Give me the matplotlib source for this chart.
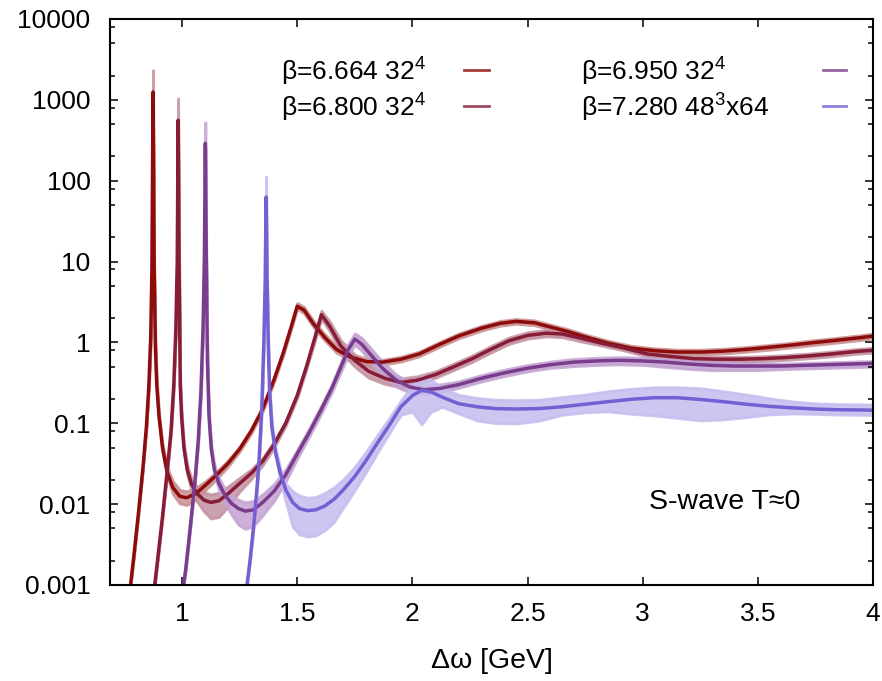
"""
S-wave spectral functions at T~0 for four lattice spacings, log scale,
with error bands (gnuplot-style figure redrawn in matplotlib).
"""

import matplotlib
matplotlib.use("Agg")
import matplotlib.pyplot as plt
import numpy as np
from matplotlib.ticker import FixedLocator, FixedFormatter, LogLocator, NullFormatter

plt.rcParams["font.family"] = ["Liberation Sans", "DejaVu Sans"]
plt.rcParams["mathtext.fontset"] = "custom"
plt.rcParams["mathtext.rm"] = "Liberation Sans"
plt.rcParams["mathtext.it"] = "Liberation Sans"

FONT_SIZE = 19

# --- data ----------------------------------------------------------------
LABELS = [r"β=6.664 32$^4$", r"β=6.800 32$^4$", r"β=6.950 32$^4$", r"β=7.280 48$^3$x64"]
LINE_COLORS = ["#8e0b0b", "#871c36", "#7a3c8c", "#7460d2"]
BAND_COLORS = ["#c98f90", "#c392a0", "#c3a3d2", "#c6bcef"]

X_TICKS = [1, 1.5, 2, 2.5, 3, 3.5, 4]
X_TICK_LABELS = ["1", "1.5", "2", "2.5", "3", "3.5", "4"]
Y_TICKS = [0.001, 0.01, 0.1, 1, 10, 100, 1000, 10000]
Y_TICK_LABELS = ["0.001", "0.01", "0.1", "1", "10", "100", "1000", "10000"]

# beta = 6.664
x1 = [0.770, 0.790, 0.810, 0.830, 0.845, 0.856, 0.864, 0.869, 0.874, 0.879,
      0.884, 0.890, 0.900, 0.915, 0.935, 0.960, 0.990, 1.020, 1.060, 1.100,
      1.150, 1.200, 1.250, 1.300, 1.350, 1.400, 1.440, 1.475, 1.500, 1.530,
      1.570, 1.620, 1.670, 1.730, 1.800, 1.870, 1.950, 2.030, 2.120, 2.200,
      2.300, 2.380, 2.450, 2.530, 2.600, 2.680, 2.760, 2.850, 2.950, 3.050,
      3.150, 3.250, 3.350, 3.450, 3.550, 3.650, 3.750, 3.850, 3.950, 4.000]
y1 = [0.0007, 0.0022, 0.0075, 0.028, 0.09, 0.3, 1.2, 8, 1250, 8,
      0.9, 0.3, 0.12, 0.05, 0.025, 0.016, 0.0125, 0.012, 0.0135, 0.017,
      0.023, 0.032, 0.048, 0.08, 0.15, 0.35, 0.75, 1.6, 2.8, 2.5,
      1.7, 1.15, 0.82, 0.66, 0.58, 0.57, 0.62, 0.72, 0.95, 1.2,
      1.5, 1.72, 1.82, 1.75, 1.55, 1.35, 1.15, 0.98, 0.85, 0.79,
      0.76, 0.76, 0.78, 0.82, 0.87, 0.93, 1.0, 1.07, 1.15, 1.2]
lo1 = [0.02, 0.02, 0.02, 0.02, 0.03, 0.05, 0.08, 0.1, 0.05, 0.1,
       0.1, 0.08, 0.05, 0.05, 0.06, 0.08, 0.09, 0.09, 0.08, 0.06,
       0.05, 0.04, 0.03, 0.03, 0.03, 0.03, 0.03, 0.03, 0.03, 0.04,
       0.04, 0.04, 0.04, 0.04, 0.04, 0.03, 0.03, 0.03, 0.03, 0.03,
       0.03, 0.03, 0.03, 0.03, 0.03, 0.03, 0.03, 0.03, 0.03, 0.03,
       0.03, 0.03, 0.03, 0.03, 0.03, 0.03, 0.03, 0.03, 0.03, 0.03]
hi1 = [0.02, 0.02, 0.02, 0.02, 0.03, 0.05, 0.08, 0.1, 0.27, 0.1,
       0.1, 0.08, 0.05, 0.05, 0.06, 0.08, 0.08, 0.08, 0.07, 0.05,
       0.04, 0.04, 0.03, 0.03, 0.03, 0.03, 0.03, 0.03, 0.04, 0.04,
       0.04, 0.04, 0.04, 0.04, 0.04, 0.03, 0.03, 0.03, 0.03, 0.03,
       0.03, 0.03, 0.03, 0.03, 0.03, 0.03, 0.03, 0.03, 0.03, 0.03,
       0.03, 0.03, 0.03, 0.03, 0.03, 0.03, 0.03, 0.03, 0.03, 0.03]

# beta = 6.800
x2 = [0.875, 0.895, 0.915, 0.935, 0.952, 0.964, 0.973, 0.979, 0.983, 0.987,
      0.992, 0.998, 1.008, 1.022, 1.040, 1.065, 1.095, 1.125, 1.160, 1.200,
      1.250, 1.300, 1.350, 1.400, 1.450, 1.500, 1.540, 1.575, 1.605, 1.640,
      1.690, 1.750, 1.810, 1.880, 1.950, 2.020, 2.100, 2.180, 2.260, 2.340,
      2.420, 2.500, 2.580, 2.650, 2.730, 2.820, 2.920, 3.020, 3.120, 3.220,
      3.320, 3.420, 3.520, 3.620, 3.720, 3.820, 3.920, 4.000]
y2 = [0.0007, 0.0022, 0.007, 0.025, 0.08, 0.3, 1.5, 10, 560, 10,
      0.3, 0.12, 0.05, 0.027, 0.018, 0.0135, 0.0112, 0.0105, 0.011, 0.0135,
      0.018, 0.024, 0.034, 0.055, 0.10, 0.22, 0.5, 1.1, 2.2, 1.6,
      0.9, 0.6, 0.44, 0.36, 0.32, 0.34, 0.40, 0.5, 0.63, 0.82,
      1.05, 1.22, 1.3, 1.27, 1.13, 0.98, 0.85, 0.72, 0.67, 0.63,
      0.62, 0.62, 0.63, 0.65, 0.68, 0.72, 0.77, 0.80]
lo2 = [0.02, 0.02, 0.02, 0.02, 0.03, 0.05, 0.08, 0.1, 0.05, 0.1,
       0.1, 0.06, 0.05, 0.06, 0.08, 0.1, 0.14, 0.2, 0.2, 0.16,
       0.1, 0.07, 0.05, 0.04, 0.03, 0.03, 0.03, 0.04, 0.05, 0.06,
       0.07, 0.08, 0.08, 0.07, 0.06, 0.05, 0.04, 0.04, 0.04, 0.04,
       0.04, 0.04, 0.04, 0.04, 0.04, 0.03, 0.03, 0.03, 0.03, 0.03,
       0.03, 0.03, 0.03, 0.03, 0.03, 0.03, 0.03, 0.03]
hi2 = [0.02, 0.02, 0.02, 0.02, 0.03, 0.05, 0.08, 0.1, 0.27, 0.1,
       0.1, 0.06, 0.05, 0.06, 0.07, 0.08, 0.1, 0.1, 0.1, 0.09,
       0.07, 0.05, 0.04, 0.04, 0.03, 0.03, 0.03, 0.04, 0.05, 0.06,
       0.07, 0.07, 0.07, 0.06, 0.05, 0.05, 0.04, 0.04, 0.04, 0.04,
       0.04, 0.04, 0.04, 0.04, 0.04, 0.03, 0.03, 0.03, 0.03, 0.03,
       0.03, 0.03, 0.03, 0.03, 0.03, 0.03, 0.03, 0.03]

# beta = 6.950
x3 = [0.995, 1.015, 1.035, 1.055, 1.070, 1.082, 1.091, 1.097, 1.101, 1.105,
      1.110, 1.117, 1.127, 1.140, 1.160, 1.185, 1.215, 1.245, 1.275, 1.310,
      1.350, 1.400, 1.450, 1.500, 1.550, 1.600, 1.650, 1.690, 1.720, 1.750,
      1.780, 1.820, 1.870, 1.930, 1.990, 2.050, 2.120, 2.200, 2.300, 2.400,
      2.500, 2.600, 2.700, 2.800, 2.900, 3.000, 3.100, 3.200, 3.300, 3.400,
      3.500, 3.600, 3.700, 3.800, 3.900, 4.000]
y3 = [0.0006, 0.0015, 0.005, 0.018, 0.06, 0.25, 1.5, 12, 290, 12,
      0.6, 0.12, 0.048, 0.027, 0.018, 0.013, 0.0102, 0.0088, 0.0082, 0.0085,
      0.0105, 0.0145, 0.023, 0.042, 0.075, 0.14, 0.27, 0.5, 0.8, 1.1,
      0.95, 0.7, 0.48, 0.34, 0.28, 0.26, 0.27, 0.3, 0.36, 0.42,
      0.48, 0.53, 0.57, 0.59, 0.6, 0.59, 0.57, 0.54, 0.52, 0.51,
      0.51, 0.51, 0.52, 0.53, 0.54, 0.55]
lo3 = [0.02, 0.02, 0.02, 0.02, 0.03, 0.05, 0.08, 0.1, 0.05, 0.1,
       0.1, 0.06, 0.05, 0.06, 0.08, 0.1, 0.14, 0.2, 0.22, 0.2,
       0.16, 0.12, 0.08, 0.06, 0.05, 0.05, 0.05, 0.06, 0.07, 0.07,
       0.08, 0.09, 0.09, 0.08, 0.07, 0.05, 0.05, 0.04, 0.04, 0.04,
       0.04, 0.04, 0.05, 0.05, 0.05, 0.05, 0.06, 0.06, 0.06, 0.05,
       0.05, 0.04, 0.04, 0.04, 0.04, 0.04]
hi3 = [0.02, 0.02, 0.02, 0.02, 0.03, 0.05, 0.08, 0.1, 0.26, 0.1,
       0.1, 0.06, 0.05, 0.06, 0.07, 0.08, 0.1, 0.11, 0.11, 0.11,
       0.1, 0.09, 0.07, 0.05, 0.05, 0.05, 0.05, 0.06, 0.07, 0.07,
       0.08, 0.08, 0.08, 0.07, 0.06, 0.05, 0.05, 0.04, 0.04, 0.04,
       0.04, 0.04, 0.04, 0.04, 0.04, 0.04, 0.04, 0.04, 0.04, 0.04,
       0.04, 0.03, 0.03, 0.03, 0.03, 0.03]

# beta = 7.280
x4 = [1.275, 1.295, 1.315, 1.333, 1.346, 1.355, 1.361, 1.365, 1.369, 1.374,
      1.380, 1.390, 1.405, 1.425, 1.450, 1.480, 1.510, 1.545, 1.580, 1.620,
      1.660, 1.700, 1.750, 1.800, 1.850, 1.900, 1.950, 2.000, 2.040, 2.080,
      2.130, 2.200, 2.280, 2.360, 2.450, 2.550, 2.650, 2.750, 2.850, 2.950,
      3.050, 3.150, 3.250, 3.350, 3.450, 3.550, 3.650, 3.750, 3.850, 3.950,
      4.000]
y4 = [0.0007, 0.002, 0.007, 0.03, 0.15, 1.0, 6, 63, 6, 1.0,
      0.25, 0.09, 0.045, 0.025, 0.015, 0.0105, 0.0088, 0.0083, 0.0085, 0.0095,
      0.0115, 0.015, 0.022, 0.035, 0.058, 0.095, 0.16, 0.22, 0.255, 0.245,
      0.21, 0.175, 0.16, 0.152, 0.15, 0.152, 0.16, 0.172, 0.185, 0.198,
      0.207, 0.207, 0.197, 0.185, 0.172, 0.162, 0.155, 0.15, 0.147, 0.146,
      0.145]
lo4 = [0.02, 0.02, 0.02, 0.02, 0.03, 0.04, 0.05, 0.05, 0.05, 0.05,
       0.05, 0.05, 0.05, 0.08, 0.15, 0.3, 0.32, 0.32, 0.32, 0.3,
       0.28, 0.22, 0.17, 0.14, 0.12, 0.1, 0.1, 0.2, 0.42, 0.25,
       0.12, 0.12, 0.17, 0.18, 0.18, 0.15, 0.1, 0.1, 0.12, 0.18,
       0.22, 0.25, 0.26, 0.22, 0.16, 0.1, 0.07, 0.06, 0.06, 0.06,
       0.06]
hi4 = [0.02, 0.02, 0.02, 0.02, 0.03, 0.04, 0.05, 0.25, 0.05, 0.05,
       0.05, 0.05, 0.05, 0.06, 0.08, 0.14, 0.16, 0.16, 0.16, 0.16,
       0.15, 0.13, 0.12, 0.11, 0.1, 0.09, 0.08, 0.12, 0.18, 0.15,
       0.12, 0.11, 0.11, 0.11, 0.11, 0.11, 0.12, 0.12, 0.13, 0.13,
       0.13, 0.13, 0.14, 0.13, 0.12, 0.1, 0.08, 0.07, 0.07, 0.07,
       0.07]

SERIES = [(x1, y1, lo1, hi1), (x2, y2, lo2, hi2), (x3, y3, lo3, hi3), (x4, y4, lo4, hi4)]


def main() -> None:
    fig = plt.figure(figsize=(8.82, 6.81), dpi=100)
    ax = fig.add_axes([0.1247, 0.1410, 0.8651, 0.8311])

    for (xs, ys, lo, hi), lc, bc in zip(SERIES, LINE_COLORS, BAND_COLORS):
        xs = np.asarray(xs)
        ys = np.asarray(ys)
        lower = ys * 10 ** (-np.asarray(lo))
        upper = ys * 10 ** np.asarray(hi)
        # edge line keeps the narrow error bars at the spikes visible
        ax.fill_between(xs, lower, upper, facecolor=bc, edgecolor=bc,
                        lw=2.0, alpha=0.85)
        ax.plot(xs, ys, color=lc, lw=2.5, solid_joinstyle="round")

    ax.set_yscale("log")
    ax.set_xlim(0.687, 4.0)
    ax.set_ylim(0.001, 10000)

    ax.xaxis.set_major_locator(FixedLocator(X_TICKS))
    ax.xaxis.set_major_formatter(FixedFormatter(X_TICK_LABELS))
    ax.yaxis.set_major_locator(FixedLocator(Y_TICKS))
    ax.yaxis.set_major_formatter(FixedFormatter(Y_TICK_LABELS))
    ax.yaxis.set_minor_locator(LogLocator(base=10, subs=[2, 5, 8]))
    ax.yaxis.set_minor_formatter(NullFormatter())

    ax.tick_params(which="both", direction="in", top=True, right=True,
                   width=1.1, labelsize=FONT_SIZE)
    ax.tick_params(which="major", length=6)
    ax.tick_params(which="minor", length=3.5)
    ax.tick_params(axis="y", pad=14)
    ax.tick_params(axis="x", pad=12)
    for spine in ax.spines.values():
        spine.set_linewidth(1.5)

    ax.set_xlabel("Δω [GeV]", fontsize=FONT_SIZE + 1.5, labelpad=16)

    # gnuplot-style key: text first, then a short line sample
    text_x = [0.224, 0.617]
    line_x = [(0.464, 0.497), (0.935, 0.965)]
    rows_y = [0.906, 0.843]
    for i, (label, lc) in enumerate(zip(LABELS, LINE_COLORS)):
        col, row = divmod(i, 2)
        ax.text(text_x[col], rows_y[row], label, transform=ax.transAxes,
                fontsize=FONT_SIZE, ha="left", va="center")
        ax.plot(line_x[col], [rows_y[row] + 0.004] * 2, transform=ax.transAxes,
                color=lc, lw=2.0, alpha=0.8, clip_on=False)

    ax.text(0.805, 0.147, "S-wave T≈0", transform=ax.transAxes,
            fontsize=FONT_SIZE + 1.5, ha="center", va="center")

    fig.savefig("out.png", dpi=100)
    plt.close(fig)


if __name__ == "__main__":
    main()
